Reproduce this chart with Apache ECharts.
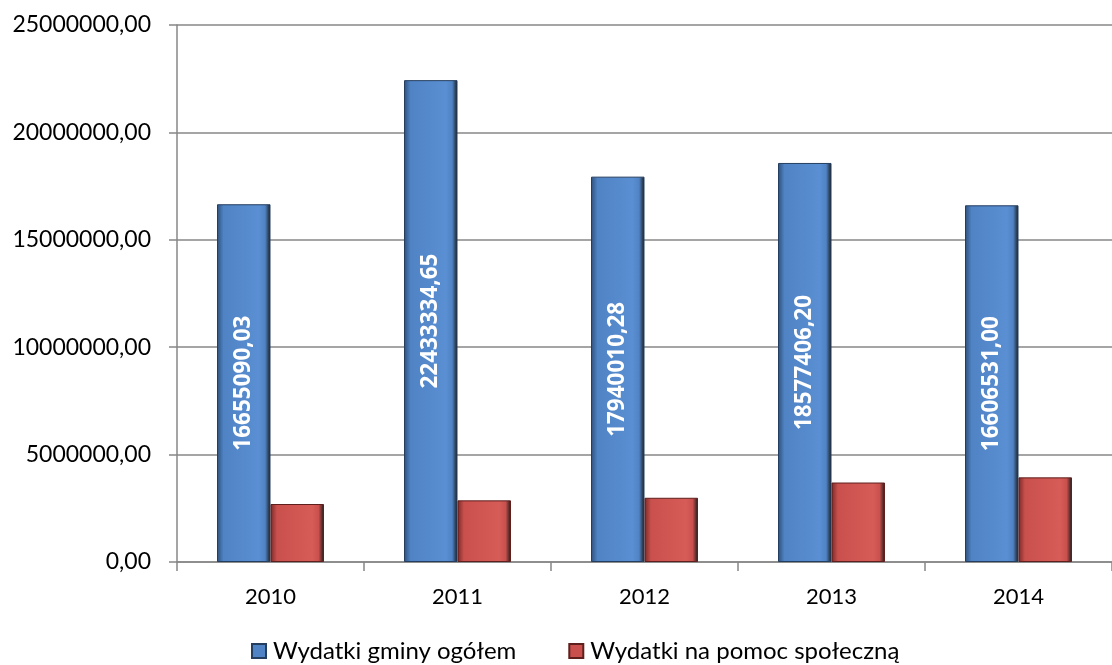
<!DOCTYPE html>
<html>
<head>
<meta charset="utf-8">
<script src="https://cdn.jsdelivr.net/npm/echarts@6/dist/echarts.min.js"></script>
<style>html,body{margin:0;padding:0;background:#fff}#c{width:1112px;height:665px}</style>
</head>
<body>
<div id="c"></div>
<script>
const categories = ['2010', '2011', '2012', '2013', '2014'];
const seriesNames = ['Wydatki gminy ogółem', 'Wydatki na pomoc społeczną'];
const totalSpending = [16655090.03, 22433334.65, 17940010.28, 18577406.20, 16606531.00];
const socialSpending = [2700000, 2870000, 2990000, 3700000, 3940000];
const yTicks = [0, 5000000, 10000000, 15000000, 20000000, 25000000];

const FONT = 'Lato';
function fmt(v) { return v.toFixed(2).replace('.', ','); }
function grad(light, mid, dark) {
  return new echarts.graphic.LinearGradient(0, 0, 1, 0, [
    {offset: 0, color: dark},
    {offset: 0.12, color: mid},
    {offset: 0.78, color: light},
    {offset: 0.9, color: mid},
    {offset: 1, color: '#1a1a1a'}
  ]);
}
const chart = echarts.init(document.getElementById('c'), null, {renderer: 'canvas'});
chart.setOption({
  animation: false,
  backgroundColor: '#fff',
  grid: {left: 177, right: -9, top: 25, bottom: 103},
  legend: {
    bottom: -3, left: 246, itemGap: 52,
    itemWidth: 14, itemHeight: 14, icon: 'rect',
    textStyle: {fontFamily: FONT, fontSize: 24, color: '#000', padding: [0, 0, 0, 2]},
    data: [
      {name: seriesNames[0], itemStyle: {color: '#4f83c4'}},
      {name: seriesNames[1], itemStyle: {color: '#c9504c'}}
    ]
  },
  xAxis: {
    type: 'category', data: categories,
    axisLine: {lineStyle: {color: '#878787', width: 1.5}},
    axisTick: {show: true, length: 9, lineStyle: {color: '#878787', width: 1.5}},
    axisLabel: {fontFamily: FONT, fontSize: 22, color: '#000', margin: 24}
  },
  yAxis: {
    type: 'value', min: yTicks[0], max: yTicks[yTicks.length - 1], interval: yTicks[1] - yTicks[0],
    axisLine: {show: true, lineStyle: {color: '#878787', width: 1.5}},
    axisTick: {show: true, length: 8, inside: false, lineStyle: {color: '#878787', width: 1.5}},
    splitLine: {lineStyle: {color: '#878787', width: 1.5}},
    axisLabel: {fontFamily: FONT, fontSize: 23, color: '#000', margin: 26, formatter: v => fmt(v)}
  },
  series: [
    {
      name: seriesNames[0], type: 'bar', data: totalSpending, barWidth: 53.5, barGap: '0%',
      itemStyle: {color: grad('#5a8fd3', '#4f83c4', '#2e4f7a'), borderColor: '#243e60', borderWidth: 1},
      label: {show: true, position: 'inside', rotate: 90, color: '#fff', fontFamily: 'Open Sans',
        fontWeight: 'bold', fontSize: 22.5, formatter: p => fmt(p.value)}
    },
    {
      name: seriesNames[1], type: 'bar', data: socialSpending, barWidth: 53.5,
      itemStyle: {color: grad('#d65c58', '#c9504c', '#7a2a28'), borderColor: '#5e1f1d', borderWidth: 1}
    }
  ]
});
</script>
</body>
</html>
